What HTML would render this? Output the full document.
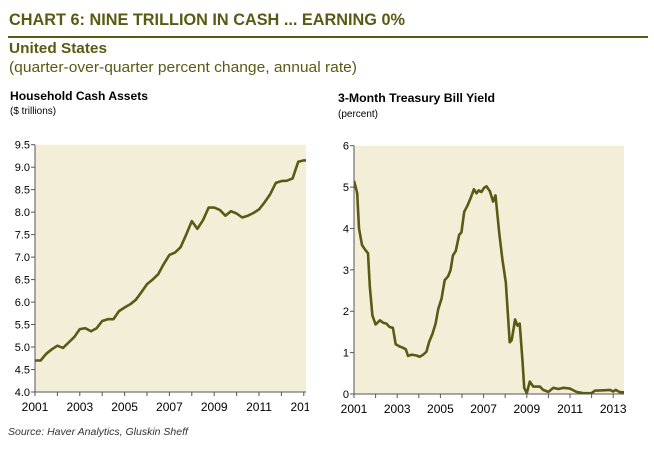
<!DOCTYPE html>
<html><head><meta charset="utf-8">
<style>
body{margin:0;background:#fff;width:654px;height:452px;overflow:hidden;font-family:"Liberation Sans",sans-serif;}
svg text{font-family:"Liberation Sans",sans-serif;}
</style></head>
<body>
<svg id="c" width="654" height="452" viewBox="0 0 654 452">
<defs><clipPath id="leftlabelclip"><rect x="0" y="0" width="309" height="452"/></clipPath></defs>
<text x="9" y="25" font-size="17" font-weight="bold" fill="#5b5a14" textLength="396" lengthAdjust="spacingAndGlyphs">CHART 6: NINE TRILLION IN CASH ... EARNING 0%</text>
<line x1="8" y1="37" x2="648" y2="37" stroke="#5b5a14" stroke-width="2"/>
<text x="9" y="53" font-size="15" font-weight="bold" fill="#5b5a14" textLength="98" lengthAdjust="spacingAndGlyphs">United States</text>
<text x="9" y="72" font-size="15" fill="#5b5a14" textLength="348" lengthAdjust="spacingAndGlyphs">(quarter-over-quarter percent change, annual rate)</text>
<text x="10" y="100" font-size="12" font-weight="bold" fill="#000" textLength="138" lengthAdjust="spacingAndGlyphs">Household Cash Assets</text>
<text x="10" y="114" font-size="10" fill="#000">($ trillions)</text>
<text x="338" y="102" font-size="12" font-weight="bold" fill="#000" textLength="157" lengthAdjust="spacingAndGlyphs">3-Month Treasury Bill Yield</text>
<text x="338" y="117" font-size="10" fill="#000">(percent)</text>
<text x="8" y="435" font-size="10.5" font-style="italic" fill="#333">Source: Haver Analytics, Gluskin Sheff</text>
<g id="left"></g>
<g id="right"></g>
</svg>
<script>
const cashValues=[4.70,4.70,4.85,4.95,5.03,4.98,5.10,5.22,5.40,5.42,5.35,5.42,5.58,5.62,5.62,5.80,5.88,5.95,6.05,6.22,6.40,6.50,6.62,6.85,7.05,7.10,7.22,7.50,7.80,7.63,7.82,8.10,8.10,8.05,7.92,8.02,7.97,7.88,7.92,7.98,8.06,8.22,8.40,8.65,8.69,8.70,8.75,9.12,9.15,9.15];
const cashYTicks=["4.0","4.5","5.0","5.5","6.0","6.5","7.0","7.5","8.0","8.5","9.0","9.5"];
const xTickYears=[2001,2003,2005,2007,2009,2011,2013];
const billYears=[2001.0,2001.08,2001.15,2001.23,2001.37,2001.5,2001.65,2001.73,2001.85,2002.0,2002.2,2002.35,2002.5,2002.65,2002.8,2002.93,2003.1,2003.26,2003.4,2003.5,2003.66,2003.9,2004.04,2004.2,2004.35,2004.47,2004.63,2004.78,2004.9,2005.05,2005.2,2005.36,2005.47,2005.58,2005.71,2005.87,2005.97,2006.1,2006.25,2006.41,2006.55,2006.67,2006.78,2006.9,2007.02,2007.13,2007.29,2007.44,2007.55,2007.72,2007.87,2008.03,2008.21,2008.3,2008.46,2008.57,2008.67,2008.8,2008.88,2009.0,2009.14,2009.3,2009.6,2009.76,2010.0,2010.23,2010.46,2010.7,2011.0,2011.3,2011.61,2012.0,2012.15,2012.54,2012.85,2013.0,2013.12,2013.28,2013.43,2013.5];
const billValues=[5.15,5.0,4.85,4.0,3.6,3.5,3.4,2.6,1.9,1.68,1.78,1.72,1.7,1.62,1.6,1.2,1.15,1.12,1.08,0.92,0.95,0.93,0.9,0.95,1.02,1.25,1.45,1.7,2.05,2.3,2.75,2.85,3.0,3.35,3.45,3.85,3.9,4.4,4.55,4.75,4.95,4.85,4.92,4.88,4.98,5.02,4.9,4.65,4.8,3.9,3.25,2.7,1.25,1.3,1.8,1.65,1.7,0.8,0.15,0.02,0.3,0.18,0.18,0.1,0.05,0.15,0.12,0.15,0.13,0.05,0.02,0.02,0.08,0.09,0.1,0.06,0.1,0.05,0.04,0.04];
const billYTicks=["0","1","2","3","4","5","6"];
const NS="http://www.w3.org/2000/svg";
function mk(parent,tag,attrs){const e=document.createElementNS(NS,tag);for(const k in attrs)e.setAttribute(k,attrs[k]);parent.appendChild(e);return e;}
function drawChart(g,o){
  const xs=y=>o.x0+(y-2001)*o.pxYear;
  const ys=v=>o.yb-(v-o.vmin)/(o.vmax-o.vmin)*(o.yb-o.yt);
  const bg=mk(g,'rect',{x:o.x0,y:o.yt,width:o.x1-o.x0,height:o.yb-o.yt,fill:'#f3eed8'});
  
  
  o.yTicks.forEach(t=>{const v=parseFloat(t);const y=ys(v);
    const tk=mk(g,'line',{x1:o.x0-4,x2:o.x0,y1:y,y2:y,stroke:'#555','stroke-width':1});
    
    
    const tx=mk(g,'text',{x:o.x0-5,y:y+4,'font-size':11,'text-anchor':'end',fill:'#000'});tx.textContent=t;
    
    
  });
  for(let yr=2001;yr<=o.lastTick;yr++){const x=xs(yr);
    const tk=mk(g,'line',{x1:x,x2:x,y1:o.yb,y2:o.yb+4,stroke:'#555','stroke-width':1});
    
    
  }
  xTickYears.forEach(yr=>{const x=xs(yr);
    const tx=mk(g,'text',{x:x,y:o.yb+19,'font-size':12,'text-anchor':'middle',fill:'#000'});tx.textContent=String(yr);
    if(o.labelClip) tx.setAttribute('clip-path','url(#leftlabelclip)');
    
    
  });
  const ax=mk(g,'path',{d:`M${o.x0},${o.yt}V${o.yb}H${o.x1}`,fill:'none',stroke:'#555','stroke-width':1});
  
  
  const pts=o.years.map((y,i)=>xs(y).toFixed(1)+','+ys(o.values[i]).toFixed(1)).join(' ');
  const cp=mk(g,'clipPath',{id:o.id+'clip'});mk(cp,'rect',{x:o.x0,y:o.yt-5,width:o.x1-o.x0,height:o.yb-o.yt+5});
  const ln=mk(g,'polyline',{points:pts,fill:'none',stroke:'#5b5a14','stroke-width':2.6,'stroke-linejoin':'round','clip-path':`url(#${o.id}clip)`});
  
  
}
const cashYears=cashValues.map((v,i)=>2001+i/4);
drawChart(document.getElementById('left'),{id:'l',x0:35,x1:306,yt:144.7,yb:392,vmin:4,vmax:9.5,pxYear:22.4,yTicks:cashYTicks,years:cashYears,values:cashValues,lastTick:2013,labelClip:true});
drawChart(document.getElementById('right'),{id:'r',x0:354,x1:624,yt:145.7,yb:394,vmin:0,vmax:6,pxYear:21.6,yTicks:billYTicks,years:billYears,values:billValues,lastTick:2013});
</script>
</body></html>
